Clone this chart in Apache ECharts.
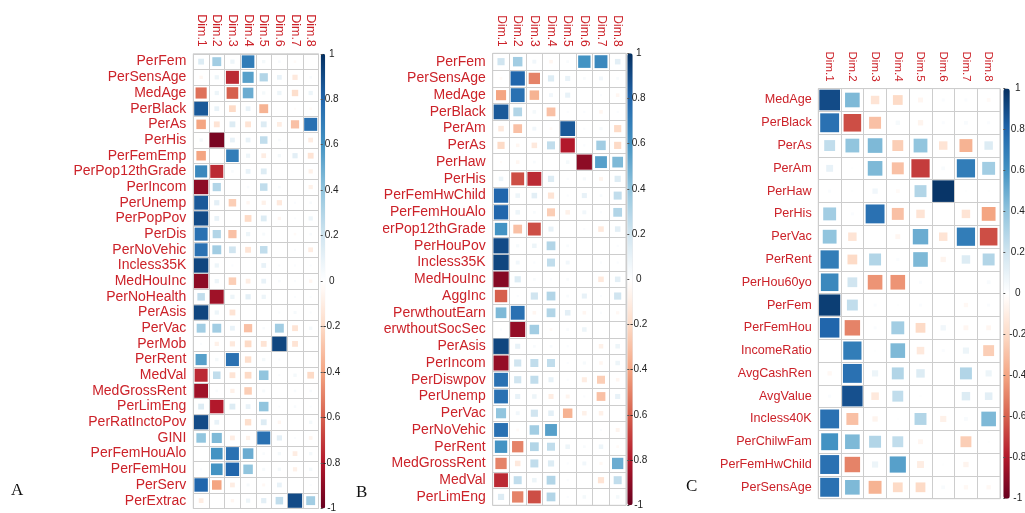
<!DOCTYPE html>
<html><head><meta charset="utf-8">
<script src="https://cdn.jsdelivr.net/npm/echarts@6/dist/echarts.min.js"></script>
<style>
html,body{margin:0;padding:0;background:#fff;width:1025px;height:513px;overflow:hidden}
.p{position:absolute;top:0;height:513px;overflow:hidden}
</style></head><body>
<div id="bg" class="p" style="left:0;width:1025px"></div>
<div id="pa" class="p" style="left:0;width:345px"></div>
<div id="pb" class="p" style="left:383px;width:297px"></div>
<div id="pc" class="p" style="left:680px;width:345px"></div>
<script>
const dims = ['Dim.1','Dim.2','Dim.3','Dim.4','Dim.5','Dim.6','Dim.7','Dim.8'];
const barTicks = [1,0.8,0.6,0.4,0.2,0,-0.2,-0.4,-0.6,-0.8,-1];
const palette = ['#67001F','#B2182B','#D6604D','#F4A582','#FDDBC7','#FFFFFF','#D1E5F0','#92C5DE','#4393C3','#2166AC','#053061'];

const rowsA = ['PerFem','PerSensAge','MedAge','PerBlack','PerAs','PerHis','PerFemEmp','PerPop12thGrade','PerIncom','PerUnemp','PerPopPov','PerDis','PerNoVehic','Incless35K','MedHouInc','PerNoHealth','PerAsis','PerVac','PerMob','PerRent','MedVal','MedGrossRent','PerLimEng','PerRatInctoPov','GINI','PerFemHouAlo','PerFemHou','PerServ','PerExtrac'];
const valsA = [
 [0.15,0.35,0.08,0.7,0.05,0.03,-0.03,0],
 [-0.05,0.08,-0.75,0.55,0.3,0.1,-0.12,0.03],
 [-0.55,0.08,-0.6,0.5,0.05,0.08,-0.18,0.08],
 [0.85,0.1,-0.2,0.1,-0.35,0,-0.02,-0.03],
 [-0.4,-0.15,0.15,-0.15,0.15,-0.1,-0.3,0.75],
 [0.05,-0.95,0.1,0.1,0.25,0.03,0,-0.1],
 [-0.4,0,0.7,0.08,-0.1,0.05,0.12,-0.15],
 [0.65,-0.75,0.03,0.1,0.15,0,0,-0.08],
 [-0.9,0.3,0,0.03,0.25,0.03,0,-0.08],
 [0.85,0.12,-0.25,-0.05,-0.08,-0.12,0.02,0.03],
 [0.9,0.1,0,-0.2,0.15,-0.05,0.02,0.08],
 [0.75,0.3,-0.3,0.08,0.04,0,-0.03,0.03],
 [0.75,0.35,0.2,-0.15,0.25,0,0.02,-0.1],
 [0.92,0.08,0.02,0,0.1,0.02,0.02,0.02],
 [-0.9,0.08,-0.25,-0.1,0.1,0.03,0.02,-0.05],
 [0.25,-0.85,0.08,0.12,0.08,0,0.02,0.02],
 [0.92,0.08,-0.15,0,0,0.02,0.04,0.02],
 [0.35,0.35,0.1,-0.3,0.03,0.35,-0.15,0.05],
 [0.02,-0.08,-0.12,-0.2,-0.15,0.92,-0.15,0],
 [0.55,0.05,0.75,-0.18,0.05,0.02,0,0],
 [-0.75,0.25,-0.15,-0.2,0.4,0.02,0.05,-0.2],
 [-0.85,0.03,-0.08,-0.25,0.04,0,0.03,0.03],
 [0.15,-0.8,0.15,0.1,0.4,0.02,0.03,0.02],
 [0.9,0.1,0,-0.18,0.15,-0.05,0,0.05],
 [0.4,0.45,-0.1,-0.08,0.75,0.12,0.02,-0.06],
 [0,0.6,0.75,0.5,0.03,0.05,-0.1,0.05],
 [0.02,0.6,0.8,0.4,0.04,0.05,-0.08,0.05],
 [0.8,-0.4,-0.1,0.04,-0.04,0.1,0,0.02],
 [-0.1,0,-0.05,0.08,0.12,0.25,0.9,0.35]
];

const rowsB = ['PerFem','PerSensAge','MedAge','PerBlack','PerAm','PerAs','PerHaw','PerHis','PerFemHwChild','PerFemHouAlo','PerPop12thGrade','PerHouPov','Incless35K','MedHouInc','AggInc','PerwthoutEarn','PerwthoutSocSec','PerAsis','PerIncom','PerDiswpov','PerUnemp','PerVac','PerNoVehic','PerRent','MedGrossRent','MedVal','PerLimEng'];
const valsB = [
 [0.2,0.35,0.06,-0.05,0.03,0.6,0.65,0.12],
 [-0.03,0.8,-0.5,0.15,0.1,0.03,0.06,0.03],
 [-0.4,0.75,-0.35,0.06,0.1,0,0.02,-0.05],
 [0.85,0.3,0.05,-0.3,0.02,0.02,-0.05,0.02],
 [-0.12,-0.3,0.06,-0.03,0.85,0.02,0.04,-0.2],
 [-0.2,-0.05,-0.12,0.25,-0.8,0.02,0.35,-0.2],
 [-0.02,-0.05,0.03,0,0.05,-0.9,0.55,0.45],
 [0.08,-0.65,-0.75,0.15,0.02,0.04,-0.06,0.15],
 [0.8,0.08,0.12,-0.15,0.02,0.1,0.03,0.25],
 [0.8,0.08,0.03,-0.25,-0.08,0.06,0.02,0.3],
 [0.6,-0.3,-0.65,0.1,0,0.02,-0.12,0.12],
 [0.9,0.04,0.08,0.3,0.03,0,0,0.02],
 [0.92,0.06,0.02,0.25,0.06,0,0.02,0.02],
 [-0.92,0.15,0.03,0.02,0.03,0,-0.12,0.12],
 [-0.6,0.02,0.2,0.3,0.03,0.1,0.02,0.2],
 [0.45,0.75,-0.05,0.3,0.12,-0.05,0.02,-0.04],
 [0.02,-0.88,0.35,-0.03,0.03,0.08,0,0],
 [0.92,0.1,0.03,0.03,0.02,0,-0.08,0.08],
 [-0.88,0.2,0.25,0.25,0.02,0.04,-0.05,0.08],
 [0.75,0.2,0.25,0.1,0.02,-0.1,-0.25,-0.05],
 [0.75,0.1,0.08,-0.1,-0.06,0.02,-0.3,0.1],
 [0.4,0.06,0.2,0.12,-0.35,-0.08,-0.08,0],
 [0.75,-0.03,0.35,0.55,0,0,0.02,-0.06],
 [0.6,-0.5,0.3,0.25,0.08,0.03,0.08,-0.03],
 [-0.5,-0.12,0.25,0.15,0.02,0.06,-0.04,0.5],
 [-0.75,0.25,0.08,0.3,0.02,0,-0.15,0.25],
 [0.15,-0.5,-0.65,0.3,0.02,0.05,0,0.05]
];

const rowsC = ['MedAge','PerBlack','PerAs','PerAm','PerHaw','PerHis','PerVac','PerRent','PerHou60yo','PerFem','PerFemHou','IncomeRatio','AvgCashRen','AvgValue','Incless40K','PerChilwFam','PerFemHwChild','PerSensAge'];
const valsC = [
 [0.9,0.45,-0.15,-0.2,-0.05,0.02,0.02,-0.03],
 [0.75,-0.65,-0.3,0.04,-0.06,0.02,0.03,0.02],
 [0.25,0.4,0.45,-0.25,0.4,-0.15,-0.35,0.15],
 [0.1,0.01,0.45,-0.3,-0.7,0.03,0.7,0.35],
 [0.02,0.01,0.06,-0.03,0.3,0.98,0.01,0.01],
 [0.35,0.02,0.75,-0.3,-0.15,0,-0.15,-0.4],
 [0.4,-0.15,0,-0.05,0.5,-0.15,0.7,-0.65],
 [0.7,-0.2,0.3,0.02,0.45,-0.06,0.15,0.3],
 [0.65,0.2,-0.45,-0.45,0.02,0,0,0.03],
 [0.95,0.25,0.02,0.01,0.02,0,-0.04,0.02],
 [0.8,-0.5,0.02,0.35,-0.2,0.06,-0.05,-0.05],
 [0,0.7,0.01,0.45,-0.12,0.02,0.08,-0.25],
 [-0.04,0.75,0.08,0.3,0.15,0,0.3,0.08],
 [0.02,0.88,-0.12,0.25,0.01,0,0.15,0.12],
 [0.75,-0.3,-0.06,0.01,0.3,-0.08,0.03,0.45],
 [0.6,0.45,0.3,0.25,-0.05,0,-0.25,0.01],
 [0.75,-0.5,0.08,0.55,-0.1,0.01,-0.06,0],
 [0.75,0.45,-0.35,-0.2,-0.2,0.03,-0.04,-0.04]
];

const GRIDC = '#cdcdcd';
const LABC = '#cc2229';
const FONT = '"Liberation Sans", Arial, sans-serif';

function build(el, rows, vals, L) {
  const data = [];
  vals.forEach((r, i) => r.forEach((v, j) => data.push([j, i, v])));
  const chart = echarts.init(document.getElementById(el), null, {renderer: 'canvas'});
  chart.setOption({
    animation: false,
    grid: [
      {left: L.gl, top: L.gt, width: L.gw, height: L.gh, show: true, borderColor: GRIDC, borderWidth: 1,
       backgroundColor: '#fff', containLabel: false, outerBoundsMode: 'none'},
      {left: L.bx, top: L.gt, width: L.bw, height: L.gh, containLabel: false, outerBoundsMode: 'none'}
    ],
    xAxis: [
      {type: 'category', data: dims, gridIndex: 0, position: 'top',
       axisLine: {show: false}, axisTick: {show: false, interval: 0},
       splitLine: {show: true, interval: 0, lineStyle: {color: GRIDC, width: 1}},
       axisLabel: {interval: 0, rotate: 90, color: LABC, fontSize: L.cf, fontFamily: FONT, margin: L.cm}},
      {type: 'value', gridIndex: 1, show: false, min: 0, max: 1}
    ],
    yAxis: [
      {type: 'category', data: rows, gridIndex: 0, inverse: true,
       axisLine: {show: false}, axisTick: {show: false, interval: 0},
       splitLine: {show: true, interval: 0, lineStyle: {color: GRIDC, width: 1}},
       axisLabel: {interval: 0, color: LABC, fontSize: L.rf, fontFamily: FONT, margin: L.rm}},
      {type: 'value', gridIndex: 1, position: 'right', min: -1, max: 1, interval: 0.2, z: 8,
       axisLine: {show: false}, splitLine: {show: false},
       axisTick: {show: true, length: 2, lineStyle: {color: '#555'}},
       axisLabel: {show: true, color: '#222', fontSize: 10, fontFamily: FONT, align: 'center', margin: L.bm,
         customValues: barTicks,
         formatter: v => { const r = Math.round(v * 10) / 10; return r === 0 ? '0' : String(r); }}}
    ],
    visualMap: {
      type: 'continuous', seriesIndex: 0, dimension: 2, min: -1, max: 1, z: 1,
      inRange: {color: palette}, calculable: false, hoverLink: false,
      left: L.bx, top: L.gt, itemWidth: L.bw, itemHeight: L.gh, padding: 0,
      orient: 'vertical', text: null, showLabel: false
    },
    series: [{
      type: 'custom', xAxisIndex: 0, yAxisIndex: 0, data: data, silent: true,
      renderItem: (params, api) => {
        const v = api.value(2);
        const c = api.coord([api.value(0), api.value(1)]);
        const s = api.size([1, 1]);
        const side = Math.sqrt(Math.abs(v)) * Math.min(s[0], s[1]) * 0.96;
        return {type: 'rect', shape: {x: c[0] - side / 2, y: c[1] - side / 2, width: side, height: side},
                style: {fill: api.visual('color')}};
      }
    }]
  });
}

build('pa', rowsA, valsA, {gl:193.3, gt:53.8, gw:125.2, gh:454.7, bx:320.7, bw:4.5, bm:6.5, rf:14, cf:12.5, rm:7, cm:7});
build('pb', rowsB, valsB, {gl:109.7, gt:53.3, gw:133.3, gh:452, bx:244.3, bw:5.4, bm:6, rf:14, cf:12, rm:7, cm:6.6});
build('pc', rowsC, valsC, {gl:138.3, gt:88.6, gw:181.7, gh:410.1, bx:323.3, bw:6.5, bm:8, rf:12.6, cf:11.5, rm:6.6, cm:7});

const letters = [
  {t: 'A', x: 11, y: 491},
  {t: 'B', x: 356, y: 493},
  {t: 'C', x: 686, y: 487}
];
const bg = echarts.init(document.getElementById('bg'));
bg.setOption({
  graphic: letters.map(l => ({type: 'text', left: l.x, top: l.y - 9,
    style: {text: l.t, fill: '#111', font: '17px "Liberation Serif", "Times New Roman", serif'}}))
});
</script>
</body></html>
